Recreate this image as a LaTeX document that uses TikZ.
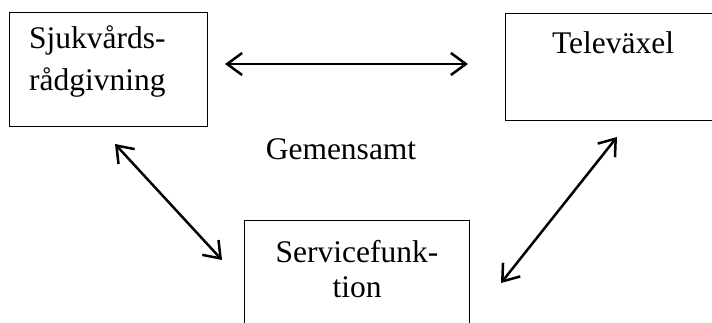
\documentclass[tikz,border=0pt]{standalone}
\usepackage{fontspec}
\setmainfont{Liberation Serif}
\usetikzlibrary{arrows.meta}
\begin{document}
\begin{tikzpicture}[x=1pt,y=-1pt,
  box/.style={draw,line width=1.4pt,inner sep=0pt,anchor=north west},
  lbl/.style={inner sep=0pt,font=\fontsize{31.5}{37}\selectfont},
  link/.style={line width=2.5pt,{Straight Barb[length=15pt,width=22pt,line width=2.5pt]}-{Straight Barb[length=15pt,width=22pt,line width=2.5pt]}}]
\path[use as bounding box] (0,0) rectangle (712,322);
\clip (0,0) rectangle (712,322);
\node[box,minimum width=198pt,minimum height=114pt] (sjuk) at (9,12) {};
\node[box,minimum width=210pt,minimum height=107pt] (tele) at (505,13) {};
\node[box,minimum width=225pt,minimum height=120pt] (serv) at (244,220) {};
\node[lbl,anchor=base west] (s1) at (29,48) {Sjukvårds-};
\node[lbl,anchor=base west] (s2) at (29,90) {rådgivning};
\node[lbl,anchor=base] (t1) at (613,53) {Televäxel};
\node[lbl,anchor=base] (v1) at (357,262) {Servicefunk-};
\node[lbl,anchor=base] (v2) at (357,297) {tion};
\node[lbl,anchor=base] (gem) at (341,159) {Gemensamt};
\coordinate (a1) at (225,64);
\coordinate (a2) at (468,64);
\coordinate (b1) at (115,144);
\coordinate (b2) at (222,260);
\coordinate (c1) at (617,137);
\coordinate (c2) at (501,283);
\draw[link] (a1) -- (a2);
\draw[link] (b1) -- (b2);
\draw[link] (c1) -- (c2);
\end{tikzpicture}
\end{document}
